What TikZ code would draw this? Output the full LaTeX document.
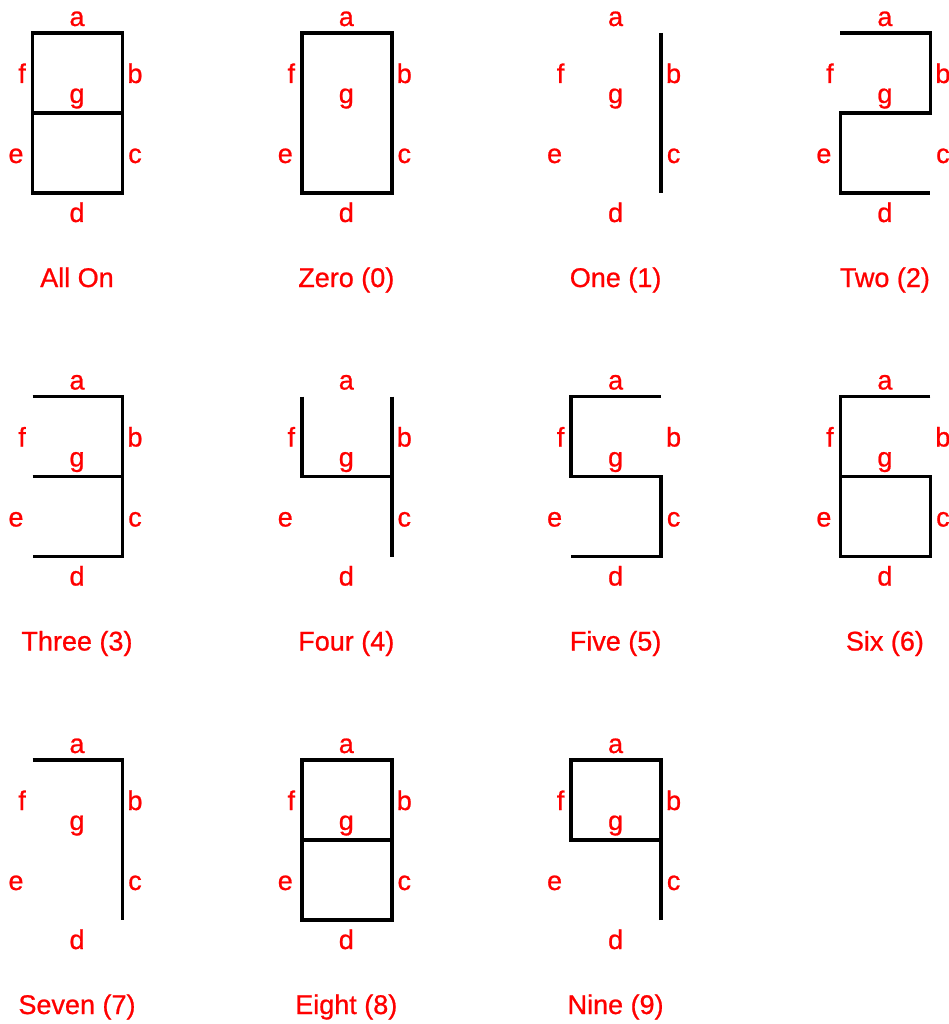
\documentclass[tikz,border=0pt]{standalone}
\usepackage{fontspec}
\setmainfont{Liberation Sans}
\newfontfamily\heavyfont[FakeBold=0.8]{Liberation Sans}
\begin{document}
\begin{tikzpicture}[x=1pt,y=-1pt,
  seg/.style={draw=black,line width=3.6pt,line join=miter,line cap=butt},
  lbl/.style={text=red,font=\heavyfont\fontsize{27}{30}\selectfont,anchor=base,inner sep=0pt},
  captiontext/.style={text=red,font=\heavyfont\fontsize{27}{30}\selectfont,anchor=base,inner sep=0pt}]
\useasboundingbox (0,0) rectangle (949,1024);
\def\L{32.5}\def\R{122.5}\def\T{33}\def\M{113}\def\B{193}
\newcommand\seglbls[2]{%
  \node[lbl] (#1a) at (77,26) {a};
  \node[lbl] (#1f) at (22,83) {f};
  \node[lbl] (#1b) at (135,83) {b};
  \node[lbl] (#1g) at (77,103) {g};
  \node[lbl] (#1e) at (16,163) {e};
  \node[lbl] (#1c) at (135,163) {c};
  \node[lbl] (#1d) at (77,222) {d};
  \node[captiontext] (#1cap) at (77,287) {#2};}
% Row 1
\begin{scope}[shift={(0,0)}]
  \draw[seg] (\L,\T) rectangle (\R,\B); \draw[seg] (\L,\M) -- (\R,\M);
  \seglbls{all}{All On}
\end{scope}
\begin{scope}[shift={(269.3,0)}]
  \draw[seg] (\L,\T) rectangle (\R,\B);
  \seglbls{zero}{Zero (0)}
\end{scope}
\begin{scope}[shift={(538.6,0)}]
  \draw[seg] (\R,\T) -- (\R,\B);
  \seglbls{one}{One (1)}
\end{scope}
\begin{scope}[shift={(807.9,0)}]
  \draw[seg] (\L,\T) -- (\R,\T) -- (\R,\M) -- (\L,\M) -- (\L,\B) -- (\R,\B);
  \seglbls{two}{Two (2)}
\end{scope}
% Row 2
\begin{scope}[shift={(0,363.5)}]
  \draw[seg] (\L,\T) -- (\R,\T) -- (\R,\B) -- (\L,\B); \draw[seg] (\L,\M) -- (\R,\M);
  \seglbls{three}{Three (3)}
\end{scope}
\begin{scope}[shift={(269.3,363.5)}]
  \draw[seg] (\L,\T) -- (\L,\M) -- (\R,\M); \draw[seg] (\R,\T) -- (\R,\B);
  \seglbls{four}{Four (4)}
\end{scope}
\begin{scope}[shift={(538.6,363.5)}]
  \draw[seg] (\R,\T) -- (\L,\T) -- (\L,\M) -- (\R,\M) -- (\R,\B) -- (\L,\B);
  \seglbls{five}{Five (5)}
\end{scope}
\begin{scope}[shift={(807.9,363.5)}]
  \draw[seg] (\R,\T) -- (\L,\T) -- (\L,\B) -- (\R,\B) -- (\R,\M) -- (\L,\M);
  \seglbls{six}{Six (6)}
\end{scope}
% Row 3
\begin{scope}[shift={(0,727)}]
  \draw[seg] (\L,\T) -- (\R,\T) -- (\R,\B);
  \seglbls{seven}{Seven (7)}
\end{scope}
\begin{scope}[shift={(269.3,727)}]
  \draw[seg] (\L,\T) rectangle (\R,\B); \draw[seg] (\L,\M) -- (\R,\M);
  \seglbls{eight}{Eight (8)}
\end{scope}
\begin{scope}[shift={(538.6,727)}]
  \draw[seg] (\R,\B) -- (\R,\T) -- (\L,\T) -- (\L,\M) -- (\R,\M);
  \seglbls{nine}{Nine (9)}
\end{scope}
\end{tikzpicture}
\end{document}
